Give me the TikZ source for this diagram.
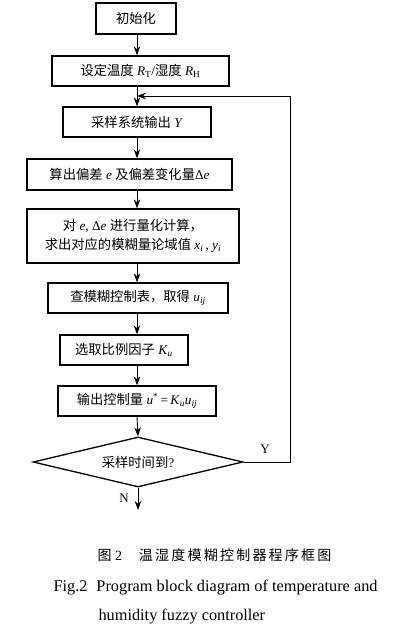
\documentclass[tikz,border=0pt]{standalone}
\usepackage{fontspec}
\setmainfont{Liberation Serif}
\newfontfamily\cjk{Noto Sans CJK SC}
\usetikzlibrary{arrows.meta,shapes.geometric}
\newcommand{\iv}[1]{\textit{#1}}
\newcommand{\sbs}[1]{\textsubscript{#1}}
\begin{document}
\begin{tikzpicture}[x=1pt,y=-1pt,
  box/.style={draw,line width=1.3pt,inner sep=0pt,font=\fontsize{13.3}{17}\selectfont,align=center},
  arr/.style={line width=0.9pt,-{Stealth[length=9pt,width=6.5pt]}},
  fb/.style={line width=0.8pt}]
\useasboundingbox (0,0) rectangle (410,636);
\node[box,minimum width=80pt,minimum height=31pt] (b1) at (136,18.5) {{\cjk 初始化}};
\node[box,minimum width=177pt,minimum height=30pt] (b2) at (140.5,71) {{\cjk 设定温度} \iv{R}\sbs{T}/{\cjk 湿度} \iv{R}\sbs{H}};
\node[box,minimum width=148pt,minimum height=30pt] (b3) at (137,122) {{\cjk 采样系统输出} \iv{Y}};
\node[box,minimum width=205pt,minimum height=31pt] (b4) at (129.5,174.5) {{\cjk 算出偏差} \iv{e} {\cjk 及偏差变化量}Δ\iv{e}};
\node[box,minimum width=212pt,minimum height=54pt] (b5) at (133,236) {{\cjk 对} \iv{e}, Δ\iv{e} {\cjk 进行量化计算，}\\[2pt]{\cjk 求出对应的模糊量论域值} \iv{x}\sbs{\iv{i}}\,, \iv{y}\sbs{\iv{i}}};
\node[box,minimum width=180pt,minimum height=30pt] (b6) at (138,298) {{\cjk 查模糊控制表，取得} \iv{u}\sbs{\iv{ij}}};
\node[box,minimum width=128pt,minimum height=30pt] (b7) at (124,350) {{\cjk 选取比例因子} \iv{K}\sbs{\iv{u}}};
\node[box,minimum width=158pt,minimum height=30pt] (b8) at (137,401) {{\cjk 输出控制量} \iv{u}\textsuperscript{*}\,=\,\iv{K}\sbs{\iv{u}}\iv{u}\sbs{\iv{ij}}};
\node[diamond,draw,line width=1.3pt,inner sep=0pt,aspect=4.2,minimum width=210pt,minimum height=50pt,font=\fontsize{13.3}{17}\selectfont] (d) at (138,462) {{\cjk 采样时间到}?};
\coordinate (j) at (137,96);
\coordinate (r1) at (290,462);
\coordinate (r2) at (290,96);
\coordinate (nend) at (138,510);
\draw[arr] (b1.south -| 137,0) -- (b2.north -| 137,0);
\draw[arr] (b2.south -| 137,0) -- (b3.north -| 137,0);
\draw[arr] (b3.south -| 137,0) -- (b4.north -| 137,0);
\draw[arr] (b4.south -| 137,0) -- (b5.north -| 137,0);
\draw[arr] (b5.south -| 137,0) -- (b6.north -| 137,0);
\draw[arr] (b6.south -| 137,0) -- (b7.north -| 137,0);
\draw[arr] (b7.south -| 137,0) -- (b8.north -| 137,0);
\draw[arr] (b8.south -| 137,0) -- (d.north);
\draw[fb] (d.east) -- (r1) -- (r2);
\draw[arr] (r2) -- (j);
\draw[arr] (d.south) -- (nend);
\node[font=\fontsize{13}{15}\selectfont] (ylab) at (265,449) {Y};
\node[font=\fontsize{13}{15}\selectfont] (nlab) at (124,498) {N};
\node[anchor=west,font=\fontsize{14}{16}\selectfont] (cap1) at (94,555) {{\cjk 图} 2\hspace{1.2em}{\cjk\addfontfeatures{LetterSpace=16} 温湿度模糊控制器程序框图}};
\node[anchor=west,font=\fontsize{16.3}{19}\selectfont] (cap2) at (50,588) {Fig.2\hspace{0.55em}Program block diagram of temperature and};
\node[anchor=west,font=\fontsize{16.3}{19}\selectfont] (cap3) at (95,617) {humidity fuzzy controller};
\end{tikzpicture}
\end{document}
